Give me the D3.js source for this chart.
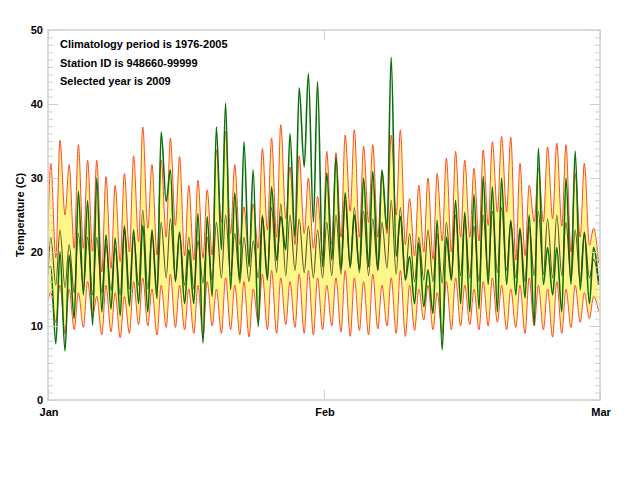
<!DOCTYPE html>
<html>
<head>
<meta charset="utf-8">
<script src="https://cdn.jsdelivr.net/npm/d3@7"></script>
<style>
  body { margin: 0; background: #fff; }
  svg text { font-family: "Liberation Sans", Arial, sans-serif; font-weight: bold; fill: #000; }
</style>
</head>
<body>
<div id="chart"></div>
<script>
// daily values (degrees C), one per day, Jan 1 .. Mar 1
// climatology upper envelope
var upMax = [32.0, 35.1, 31.8, 34.5, 32.4, 32.4, 30.2, 29.0, 30.6, 33.0, 36.9, 31.8, 32.4, 35.4, 32.9,
             29.0, 29.7, 28.4, 33.8, 36.3, 31.8, 26.1, 26.5, 34.0, 35.4, 37.2, 31.5, 33.0, 30.0, 27.5,
             33.6, 33.4, 35.8, 36.5, 34.3, 34.5, 30.9, 35.8, 36.5, 27.2, 29.0, 30.0, 30.6, 32.7, 33.6,
             32.4, 31.3, 33.8, 34.9, 35.6, 35.5, 32.0, 29.0, 31.3, 34.2, 34.7, 34.5, 30.6, 32.0, 23.2];
var upMin = [19.2, 25.0, 20.5, 20.5, 20.1, 17.3, 17.8, 18.7, 20.0, 21.4, 23.2, 19.6, 22.0, 23.6, 19.5,
             18.9, 19.2, 19.6, 24.0, 22.5, 21.0, 19.0, 20.5, 23.0, 22.0, 24.5, 21.0, 22.5, 20.5, 19.5,
             21.0, 22.0, 25.5, 22.0, 24.0, 22.0, 22.5, 25.0, 21.0, 19.5, 20.0, 19.0, 21.5, 20.0, 22.0,
             22.0, 21.5, 23.6, 25.4, 25.4, 18.9, 19.5, 24.1, 24.1, 24.5, 23.5, 20.0, 22.0, 20.9, 18.5];
// climatology lower envelope
var loMax = [14.5, 15.5, 15.0, 14.5, 16.0, 14.0, 15.5, 14.5, 14.0, 16.0, 16.5, 15.0, 15.5, 17.0, 15.5,
             15.0, 15.5, 16.0, 15.0, 16.5, 15.5, 16.0, 15.0, 17.0, 17.5, 16.5, 16.0, 17.0, 17.5, 16.5,
             15.5, 16.5, 17.5, 16.5, 16.0, 17.0, 15.5, 16.5, 17.5, 15.5, 15.0, 15.5, 14.5, 16.0, 16.5,
             15.5, 15.0, 16.0, 16.5, 15.5, 15.0, 15.5, 16.5, 15.5, 15.0, 16.0, 15.0, 15.5, 14.5, 14.0];
var loMin = [10.5, 9.0, 9.5, 9.8, 11.2, 8.8, 9.2, 8.4, 9.0, 10.2, 10.0, 8.8, 9.8, 9.8, 9.5,
             9.0, 8.5, 10.0, 9.0, 9.5, 8.8, 8.5, 10.5, 9.5, 9.0, 10.2, 9.8, 9.0, 8.8, 9.5,
             10.0, 9.2, 8.6, 9.4, 8.8, 9.6, 10.0, 9.0, 8.6, 9.4, 10.8, 9.5, 9.0, 9.5, 10.0,
             10.2, 9.5, 10.0, 10.5, 9.5, 9.8, 9.0, 10.0, 9.5, 8.5, 9.0, 9.8, 10.5, 11.0, 12.0];
// climatology mean
var meanMax = [22.0, 23.0, 21.0, 22.5, 22.0, 22.0, 21.0, 20.5, 23.6, 22.0, 25.7, 22.5, 24.0, 24.5, 22.5,
               22.0, 21.5, 22.0, 24.0, 25.0, 22.5, 22.0, 21.5, 25.0, 26.0, 26.5, 25.0, 24.5, 23.5, 23.0,
               24.0, 25.0, 27.0, 26.0, 25.5, 24.5, 24.0, 27.0, 26.0, 22.5, 22.0, 23.0, 22.5, 24.0, 25.0,
               24.5, 23.5, 25.0, 25.5, 26.0, 24.0, 23.0, 23.5, 25.5, 24.5, 25.0, 24.0, 23.0, 22.5, 19.0];
var meanMin = [15.5, 15.2, 14.5, 15.0, 14.2, 14.5, 14.8, 14.2, 15.0, 15.5, 15.0, 14.8, 16.5, 16.2, 15.5,
               15.0, 15.8, 16.2, 16.5, 16.8, 15.8, 16.0, 16.5, 16.8, 17.2, 16.8, 17.5, 17.2, 16.5, 16.5,
               16.8, 17.0, 17.8, 17.2, 16.8, 17.5, 17.8, 17.0, 16.5, 16.0, 16.2, 16.0, 15.8, 16.5, 16.8,
               16.5, 16.0, 16.8, 17.2, 17.5, 16.5, 16.0, 16.8, 17.0, 16.5, 16.8, 16.2, 16.0, 16.5, 16.0];
// selected year 2009
var obsMax = [18.0, 20.0, 19.6, 28.2, 27.0, 30.0, 22.3, 21.9, 23.3, 23.0, 23.6, 23.0, 36.2, 31.1, 22.7,
              20.3, 25.2, 24.8, 36.9, 40.1, 28.0, 34.9, 31.1, 24.8, 28.8, 24.8, 36.0, 42.2, 44.1, 43.0,
              30.7, 32.9, 28.0, 25.0, 30.0, 30.9, 31.1, 46.3, 24.8, 19.4, 21.2, 17.6, 24.3, 22.0, 27.0,
              25.4, 27.8, 30.2, 28.8, 30.0, 24.3, 23.2, 25.0, 34.0, 20.6, 20.6, 30.0, 33.6, 22.7, 20.6];
var obsMin = [7.6, 6.6, 11.0, 14.2, 10.1, 11.9, 12.3, 11.4, 12.7, 13.0, 11.9, 13.7, 26.8, 16.0, 13.0,
              13.0, 7.7, 14.0, 20.3, 14.9, 16.2, 18.0, 9.9, 16.2, 18.9, 20.3, 22.0, 31.5, 24.0, 18.0,
              18.9, 17.6, 18.0, 17.6, 18.0, 17.6, 23.0, 19.4, 16.2, 13.0, 12.6, 11.7, 6.8, 16.2, 13.0,
              11.9, 12.3, 15.6, 11.9, 15.6, 14.2, 13.8, 10.1, 15.6, 14.2, 11.9, 15.6, 14.9, 13.0, 15.6];
// value at the very start of Jan 1
var startVals = { up: 23, lo: 13.5, mean: 17, obs: 17.8 };

var monthLabels = ["Jan", "Feb", "Mar"];
var monthTicks = [0, 30, 60];
var notes = ["Climatology period is 1976-2005", "Station ID is 948660-99999", "Selected year is 2009"];

var width = 628, height = 482;
var margin = { left: 48, right: 28, top: 30, bottom: 82 };
var axisGrey = "#cfcfcf";

var x = d3.scaleLinear().domain([0, 60]).range([margin.left, width - margin.right]);
var y = d3.scaleLinear().domain([0, 50]).range([height - margin.bottom, margin.top]);

// peak of day at ~0.3, overnight low at ~0.85 of the day
function dailyPoints(start, maxs, mins) {
  var pts = [{ t: 0, v: start }];
  for (var i = 0; i < maxs.length; i++) {
    pts.push({ t: i + 0.3, v: maxs[i] });
    pts.push({ t: i + 0.85, v: mins[i] });
  }
  return pts;
}

var upPts = dailyPoints(startVals.up, upMax, upMin);
var loPts = dailyPoints(startVals.lo, loMax, loMin);
var meanPts = dailyPoints(startVals.mean, meanMax, meanMin);
var obsPts = dailyPoints(startVals.obs, obsMax, obsMin);
var band = upPts.map((d, i) => ({ t: d.t, hi: d.v, lo: loPts[i].v }));

var svg = d3.select("#chart").append("svg")
  .attr("width", width).attr("height", height);

svg.append("clipPath").attr("id", "plotclip")
  .append("rect")
  .attr("x", x(0)).attr("y", y(50))
  .attr("width", x(60) - x(0)).attr("height", y(0) - y(50));

var line = d3.line().x(d => x(d.t)).y(d => y(d.v)).curve(d3.curveMonotoneX);
var area = d3.area().x(d => x(d.t)).y0(d => y(d.lo)).y1(d => y(d.hi)).curve(d3.curveMonotoneX);

var plot = svg.append("g").attr("clip-path", "url(#plotclip)");

plot.append("path").datum(band)
  .attr("d", area)
  .attr("fill", "#fff68a");

plot.append("path").datum(upPts)
  .attr("d", line).attr("fill", "none")
  .attr("stroke", "#ff4a2c").attr("stroke-width", 1);
plot.append("path").datum(loPts)
  .attr("d", line).attr("fill", "none")
  .attr("stroke", "#ff4a2c").attr("stroke-width", 1);

plot.append("path").datum(obsPts)
  .attr("d", line).attr("fill", "none")
  .attr("stroke", "#0a6e0a").attr("stroke-width", 1.6);

plot.append("path").datum(meanPts)
  .attr("d", line).attr("fill", "none")
  .attr("stroke", "#3a3a12").attr("stroke-opacity", 0.85).attr("stroke-width", 1.1);

// frame
svg.append("rect")
  .attr("x", x(0)).attr("y", y(50))
  .attr("width", x(60) - x(0)).attr("height", y(0) - y(50))
  .attr("fill", "none").attr("stroke", axisGrey).attr("stroke-width", 1.5);

// y axes, ticks pointing inward on both sides
var yMinor = d3.range(0, 51, 1);
var yMajor = d3.range(0, 51, 10);

svg.append("g").attr("transform", `translate(${x(0)},0)`)
  .call(d3.axisRight(y).tickValues(yMinor).tickSize(5).tickFormat(""))
  .call(g => g.select(".domain").remove())
  .call(g => g.selectAll("line").attr("stroke", axisGrey));
svg.append("g").attr("transform", `translate(${x(0)},0)`)
  .call(d3.axisRight(y).tickValues(yMajor).tickSize(10).tickFormat(""))
  .call(g => g.select(".domain").remove())
  .call(g => g.selectAll("line").attr("stroke", axisGrey));

svg.append("g").attr("transform", `translate(${x(60)},0)`)
  .call(d3.axisLeft(y).tickValues(yMinor).tickSize(5).tickFormat(""))
  .call(g => g.select(".domain").remove())
  .call(g => g.selectAll("line").attr("stroke", axisGrey));
svg.append("g").attr("transform", `translate(${x(60)},0)`)
  .call(d3.axisLeft(y).tickValues(yMajor).tickSize(10).tickFormat(""))
  .call(g => g.select(".domain").remove())
  .call(g => g.selectAll("line").attr("stroke", axisGrey));

svg.append("g").selectAll("text").data(yMajor).join("text")
  .attr("x", x(0) - 5).attr("y", d => y(d) + 4)
  .attr("text-anchor", "end").attr("font-size", 11)
  .text(d => d);

// x axis: month ticks inward, top and bottom
svg.append("g").attr("transform", `translate(0,${y(0)})`)
  .call(d3.axisTop(x).tickValues(monthTicks).tickSize(10).tickFormat(""))
  .call(g => g.select(".domain").remove())
  .call(g => g.selectAll("line").attr("stroke", axisGrey));
svg.append("g").attr("transform", `translate(0,${y(50)})`)
  .call(d3.axisBottom(x).tickValues(monthTicks).tickSize(10).tickFormat(""))
  .call(g => g.select(".domain").remove())
  .call(g => g.selectAll("line").attr("stroke", axisGrey));

svg.append("g").selectAll("text").data(monthTicks).join("text")
  .attr("x", d => x(d) + 1).attr("y", y(0) + 16)
  .attr("text-anchor", "middle").attr("font-size", 11)
  .text((d, i) => monthLabels[i]);

svg.append("text")
  .attr("transform", `translate(24,${(y(0) + y(50)) / 2}) rotate(-90)`)
  .attr("text-anchor", "middle").attr("font-size", 11)
  .text("Temperature (C)");

svg.append("g").selectAll("text").data(notes).join("text")
  .attr("x", 60).attr("y", (d, i) => 48 + i * 18.5)
  .attr("font-size", 11)
  .text(d => d);
</script>
</body>
</html>
